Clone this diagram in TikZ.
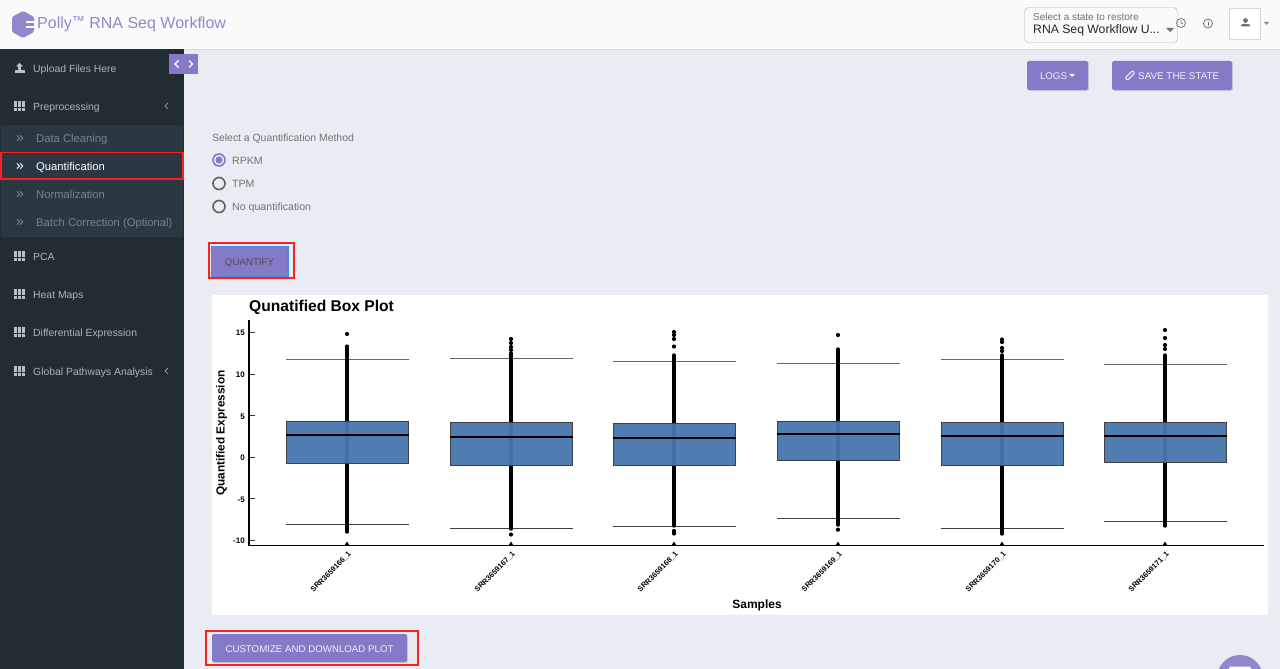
\documentclass[tikz,border=0pt]{standalone}
\usepackage{fontspec}
\setmainfont{Liberation Sans}
\usetikzlibrary{shadows}
\definecolor{pagebg}{HTML}{E9ECF2}
\definecolor{headbg}{HTML}{FAFAFA}
\definecolor{sidebg}{HTML}{212C34}
\definecolor{subbg}{HTML}{2B3841}
\definecolor{sidetxt}{HTML}{AEB6BA}
\definecolor{subtxt}{HTML}{76858C}
\definecolor{purple}{HTML}{857AC7}
\definecolor{hired}{HTML}{FB1F1F}
\definecolor{labeltxt}{HTML}{707276}
\definecolor{boxblue}{HTML}{4676AD}
\definecolor{focusblue}{HTML}{4F86E0}
\newcommand{\fs}[1]{\fontsize{#1}{#1}\selectfont}
\tikzset{
	flat/.style={inner sep=0pt,text height=.8em,text depth=.1em},
	txt/.style={flat,anchor=west,font=\fs{10.4}},
	menu/.style={txt,text=sidetxt,text height=1em},
	submenu/.style={txt,text=subtxt,font=\fs{11.25},text height=1em},
	radiolabel/.style={txt,text=labeltxt,font=\fs{10.6}},
	btn/.style={fill=purple,rounded corners=1.5pt,drop shadow={shadow xshift=1pt,shadow yshift=-1pt,opacity=.25}},
	btntxt/.style={flat,text=white!88!purple,font=\fs{9.7}},
	redbox/.style={draw=hired,line width=1.6pt},
	ytick/.style={flat,anchor=east,font=\fs{8}\bfseries},
	gridicon/.pic={
		\foreach \i in {0,1,2} \foreach \j in {0,1,2}
			\fill[sidetxt!85!white] (14+3.8*\i,-5+3.4*\j) rectangle +(3.2,2.8);
	},
	subchevron/.pic={
		\draw[line width=.9pt] (-2.5,-2.6) -- (0,0) -- (-2.5,2.6);
		\draw[line width=.9pt] (.8,-2.6) -- (3.3,0) -- (.8,2.6);
	},
}
\begin{document}
\begin{tikzpicture}[x=1pt,y=-1pt]
	\useasboundingbox (0,0) rectangle (1280,669);
	\clip (0,0) rectangle (1280,669);
	\fill[pagebg] (0,0) rectangle (1280,669);

	% header
	\fill[headbg] (0,0) rectangle (1280,49);
	\draw[black!15] (0,49.5) -- (1280,49.5);
	\fill[purple!90!white,rounded corners=1.5pt] (23,11) -- (34,17) -- (34,32) -- (23,38) -- (12,32) -- (12,17) -- cycle;
	\foreach \y in {22,27}
		\draw[headbg,line width=1.8pt,line cap=round] (26.5,\y) -- (34.5,\y);
	\node[txt,text=purple!90!white,font=\fs{16}] (title) at (37,25) {Polly\raisebox{3pt}{\fs{13}™} RNA Seq Workflow};
	\draw[black!30,fill=headbg,rounded corners=4pt] (1024.5,7.5) rectangle (1177.5,42.5);
	\node[txt,text=black!55,font=\fs{10}] (statehint) at (1033,17.5) {Select a state to restore};
	\node[txt,text=black!85,font=\fs{12.2}] (statevalue) at (1033,30.5) {RNA Seq Workflow U...};
	\fill[black!55] (1166,28) -- (1174,28) -- (1170,32) -- cycle;
	\draw[black!55,line width=.8pt] (1181,23) circle (4.5);
	\draw[black!55,line width=.7pt] (1181,20.5) -- (1181,23) -- (1183,24);
	\draw[black!55,line width=.8pt] (1208,23.5) circle (4.5);
	\draw[black!55,line width=.9pt] (1208,22.5) -- (1208,26);
	\fill[black!55] (1208,21) circle (.6);
	\draw[black!15,fill=white] (1229.5,8.5) rectangle (1260.5,39.5);
	\fill[black!55] (1245.5,20.5) circle (2.4);
	\fill[black!55] (1241,26.5) -- (1241,25) .. controls (1242,23.4) and (1249,23.4) .. (1250,25) -- (1250,26.5) -- cycle;
	\fill[black!45] (1264,22) -- (1269,22) -- (1266.5,25) -- cycle;

	% sidebar
	\fill[sidebg] (0,49) rectangle (184,669);
	\fill[subbg] (1,125) rectangle (183,237);
	\fill[purple] (169,54) rectangle (198,74);
	\draw[white,line width=1.4pt] (178.5,60.5) -- (175,64) -- (178.5,67.5);
	\draw[white,line width=1.4pt] (189,60.5) -- (192.5,64) -- (189,67.5);
	\fill[sidetxt!85!white] (19.5,63) -- (23,66.5) -- (21,66.5) -- (21,70) -- (18,70) -- (18,66.5) -- (16,66.5) -- cycle;
	\fill[sidetxt!85!white] (14.5,70.5) rectangle (24.5,73);
	\node[menu] (upload) at (33,68.5) {Upload Files Here};
	\foreach \y/\lab/\nm in {106/Preprocessing/prep,256/PCA/pca,294/Heat Maps/heat,332/Differential Expression/diff,371/Global Pathways Analysis/global}{
		\pic at (0,\y) {gridicon};
		\node[menu] (\nm) at (33,\y) {\lab};
	}
	\foreach \y in {106,371}
		\draw[sidetxt,line width=.7pt] (168,\y-3) -- (165,\y) -- (168,\y+3);
	\foreach \y/\lab/\nm in {138/Data Cleaning/clean,194/Normalization/norm,222/Batch Correction (Optional)/batch}{
		\pic[draw=subtxt] at (19.5,\y) {subchevron};
		\node[submenu] (\nm) at (36,\y) {\lab};
	}
	\pic[draw=white] at (19.5,166) {subchevron};
	\node[submenu,text=white] (quant) at (36,166) {Quantification};
	\draw[redbox] (1,152.5) rectangle (183,179);

	% top buttons
	\path[btn] (1027,61) rectangle (1088,90);
	\node[btntxt] (logs) at (1053.5,75.5) {LOGS};
	\fill[white!88!purple] (1069,74) -- (1075,74) -- (1072,77) -- cycle;
	\path[btn] (1112,61) rectangle (1232,90);
	\node[btntxt,anchor=west,font=\fs{9.85}] (savestate) at (1138,75.5) {SAVE THE STATE};
	\draw[white!88!purple,line width=1pt,rounded corners=1pt,rotate around={45:(1130,75.5)}] (1125,73.8) rectangle (1135,77.2);

	% method form
	\node[txt,text=labeltxt] (method) at (212,137.5) {Select a Quantification Method};
	\draw[purple,line width=1.6pt] (219,160) circle (6);
	\fill[purple] (219,160) circle (3.6);
	\draw[black!62,line width=1.6pt] (219,183.5) circle (6);
	\draw[black!62,line width=1.6pt] (219,206.5) circle (6);
	\node[radiolabel] (rpkm) at (232,160.5) {RPKM};
	\node[radiolabel] (tpm) at (232,183.5) {TPM};
	\node[radiolabel] (noquant) at (232,206.5) {No quantification};
	\draw[draw=focusblue,fill=purple,line width=1.2pt] (211.5,246.5) rectangle (288,277);
	\node[flat,text=black!70,font=\fs{9.7}] (quantify) at (249.5,261.5) {QUANTIFY};
	\draw[redbox] (209,243) rectangle (294,278);

	% box plot
	\fill[white] (212,295) rectangle (1268,615);
	\node[txt,font=\fs{15.6}\bfseries] (plottitle) at (249,307.5) {Qunatified Box Plot};
	\foreach \yy/\lab in {332/15,374/10,415.5/5,457/0,498.5/-5,540/-10}{
		\draw[black!80,line width=.7pt] (249,\yy) -- (255,\yy);
		\node[ytick] (y\lab) at (245,\yy) {\lab};
	}
	\node[flat,rotate=90,font=\fs{11.8}\bfseries] (ylabel) at (221,433) {Quantified Expression};
	\node[flat,font=\fs{12}\bfseries] (xlabel) at (757,604.5) {Samples};
	\foreach \cx/\qa/\qb/\med/\wa/\wb/\ca/\cb/\toppts/\botpts/\nm in {
		347/421.5/463/435/359/524.5/358/533/{334,346.5,349,351,353,355,357}/{}/166,
		511/422/465/437/358.5/528.5/352/530/{339,343,347,350}/{534.5}/167,
		674/423/465/438/361/526/354/527/{332,335,339,346.5}/{531,533.5}/168,
		838/421/460/434/363/518/348/526/{335}/{529.7}/169,
		1002/422/465/436/359/528.5/354/535/{339.5,342,348,351}/{}/170,
		1165/422.5/462/436/364/521/354/527/{330,338,345,349}/{}/171}{
		\draw[black!60,line width=1pt] (\cx-61,\wa) -- (\cx+61.5,\wa);
		\draw[black!75,line width=1pt] (\cx-61,\wb) -- (\cx+61.5,\wb);
		\draw[line width=3.4pt,line cap=round] (\cx,\ca+1) -- (\cx,\cb-1);
		\draw[line width=4.6pt,line cap=round] (\cx,368) -- (\cx,\cb-2);
		\foreach \d in \toppts
			\fill (\cx,\d) circle (2.1);
		\foreach \d in \botpts
			\fill (\cx,\d) circle (2.1);
		\fill[boxblue,fill opacity=.95] (\cx-61,\qa) rectangle (\cx+61.5,\qb);
		\draw[black!75,line width=.9pt] (\cx-61,\qa) rectangle (\cx+61.5,\qb);
		\draw[line width=1.5pt] (\cx-61,\med) -- (\cx+61.5,\med);
		\fill (\cx-2.2,545) -- (\cx,541.5) -- (\cx+2.2,545) -- cycle;
		\node[rotate=45,inner sep=0pt,font=\fs{7.5}\bfseries] (sample\nm) at (\cx-16,572) {SRR3659\nm\_1};
	}
	\draw[line width=1.8pt] (249,320) -- (249,545.5) -- (1263.5,545.5);

	% bottom
	\path[btn] (212,634) rectangle (407,662);
	\node[btntxt] (customize) at (309.5,648.5) {CUSTOMIZE AND DOWNLOAD PLOT};
	\draw[redbox] (206,631) rectangle (418,665);
	\fill[purple!90!white] (1240,678) circle (23);
	\fill[white,rounded corners=2pt] (1229,666.5) rectangle (1251,680);
\end{tikzpicture}
\end{document}
